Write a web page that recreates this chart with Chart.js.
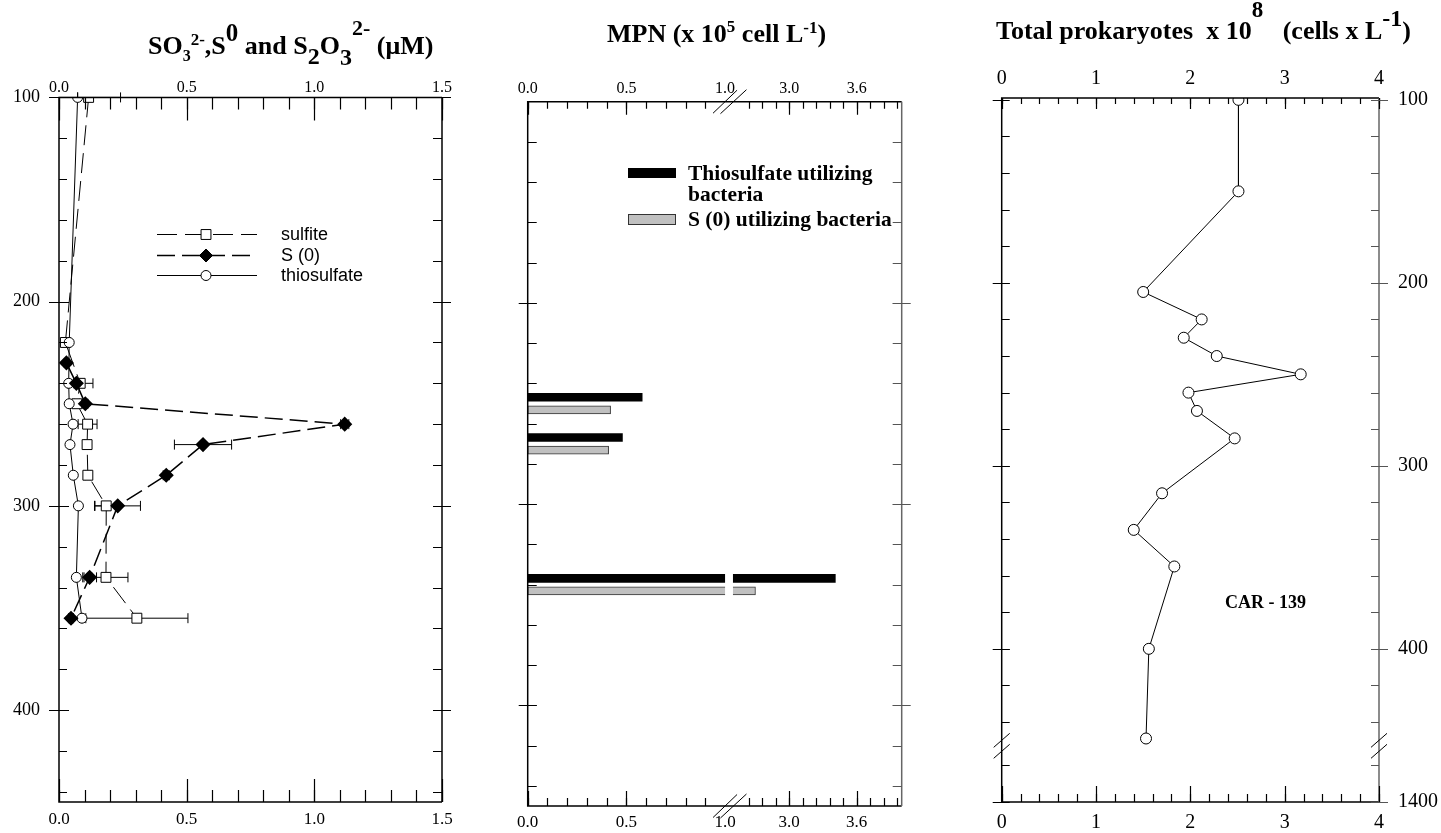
<!DOCTYPE html>
<html>
<head>
<meta charset="utf-8">
<script src="https://cdn.jsdelivr.net/npm/chart.js@4.4.1/dist/chart.umd.min.js"></script>
<style>
  html, body { margin: 0; padding: 0; background: #fff; }
  #wrap { position: relative; width: 1441px; height: 833px; overflow: hidden; }
  canvas { position: absolute; left: 0; top: 0; }
  .title { position: absolute; font-family: "Liberation Serif", "Times New Roman", serif; font-weight: bold;
           font-size: 26px; line-height: 30px; height: 30px; white-space: nowrap; color: #000; }
  .title span { position: relative; line-height: 0; }
</style>
</head>
<body>
<div id="wrap">
  <canvas id="sulfur" width="1441" height="833"></canvas>
  <canvas id="mpn" width="1441" height="833"></canvas>
  <canvas id="prok" width="1441" height="833"></canvas>
  <div class="title" style="left:148px; top:31px">SO<span style="font-size:16px; top:7px">3</span><span style="font-size:17px; top:-9px">2-</span>,S<span style="font-size:25px; top:-13px">0</span> and S<span style="font-size:24px; top:10px">2</span>O<span style="font-size:24px; top:11px">3</span><span style="font-size:22px; top:-19px">2-</span> (μM)</div>
  <div class="title" style="left:607px; top:19px">MPN (x 10<span style="font-size:17px; top:-10px">5</span> cell L<span style="font-size:17px; top:-9px">-1</span>)</div>
  <div class="title" style="left:996px; top:16px">Total prokaryotes&nbsp; x 10<span style="font-size:23px; top:-22px">8</span>&nbsp;&nbsp; (cells x L<span style="font-size:24px; top:-13px">-1</span>)</div>
</div>
<script>
// ---------- panel 1: sulfite, S(0), thiosulfate (uM) vs depth ----------
var sulfiteDepth = [100, 220, 240, 250, 260, 270, 285, 300, 335, 355];
var sulfite      = [0.116, 0.025, 0.083, 0.07, 0.112, 0.11, 0.113, 0.185, 0.184, 0.305];
var sulfiteErr   = [0.125, 0.005, 0.05, 0.01, 0.037, 0.01, 0.01, 0.046, 0.086, 0.2];

var s0Depth = [230, 240, 250, 260, 270, 285, 300, 335, 355];
var s0      = [0.029, 0.068, 0.103, 1.119, 0.564, 0.42, 0.23, 0.12, 0.047];
var s0Err   = [0.008, 0.01, 0.01, 0.016, 0.112, 0.012, 0.089, 0.027, 0.01];

var thioDepth = [100, 220, 240, 250, 260, 270, 285, 300, 335, 355];
var thio      = [0.073, 0.04, 0.038, 0.04, 0.055, 0.043, 0.056, 0.076, 0.068, 0.09];

var sulfurXTicks = [0, 0.5, 1.0, 1.5];
var sulfurYTicks = [100, 200, 300, 400];

// ---------- panel 2: MPN (x 10^5 cell/L), broken x axis ----------
var mpnDepth   = [250, 270, 340];
var thioBact   = [0.58, 0.48, 3.41];
var s0Bact     = [0.42, 0.41, 2.70];
var mpnXTicks  = [0, 0.5, 1.0, 3.0, 3.6];
var mpnXLabels = ['0.0', '0.5', '1.0', '3.0', '3.6'];

// ---------- panel 3: total prokaryotes x 10^8 cells/L, broken depth axis ----------
var prokDepth   = [100, 150, 205, 220, 230, 240, 250, 260, 270, 285, 315, 335, 355, 400, 449];
var prokaryotes = [2.51, 2.51, 1.50, 2.12, 1.93, 2.28, 3.17, 1.98, 2.07, 2.47, 1.70, 1.40, 1.83, 1.56, 1.53];
var prokXTicks  = [0, 1, 2, 3, 4];
var prokYTicks  = [100, 200, 300, 400, 1400];

var serif = '"Liberation Serif", "Times New Roman", serif';

// broken axes: values past the break are shifted onto a compressed piece
function mpnAxis(v) { return v <= 1 ? v : 1.04 + (v - 2.5) * 0.57; }
function prokAxis(d) { return d <= 455 ? d : d - 916.3; }

function range(a, b, step) {
    var out = [];
    for (var v = a; v <= b + 1e-9; v += step) out.push(Math.round(v * 1000) / 1000);
    return out;
}

function marks(ctx, chart, side, scaleId, values, inLen, outLen) {
    var a = chart.chartArea;
    var s = chart.scales[scaleId];
    ctx.beginPath();
    values.forEach(function (v) {
        var p = Math.round(s.getPixelForValue(v)) + 0.5;
        if (side === 'top')    { ctx.moveTo(p, a.top - outLen);    ctx.lineTo(p, a.top + inLen); }
        if (side === 'bottom') { ctx.moveTo(p, a.bottom + outLen); ctx.lineTo(p, a.bottom - inLen); }
        if (side === 'left')   { ctx.moveTo(a.left - outLen, p);   ctx.lineTo(a.left + inLen, p); }
        if (side === 'right')  { ctx.moveTo(a.right + outLen, p);  ctx.lineTo(a.right - inLen, p); }
    });
    ctx.stroke();
}

function frame(ctx, chart, rightColor) {
    var a = chart.chartArea;
    ctx.lineWidth = 1.5;
    ctx.strokeStyle = '#000';
    ctx.beginPath();
    ctx.moveTo(a.right, a.top); ctx.lineTo(a.left, a.top);
    ctx.lineTo(a.left, a.bottom); ctx.lineTo(a.right, a.bottom);
    ctx.stroke();
    ctx.strokeStyle = rightColor || '#000';
    ctx.beginPath();
    ctx.moveTo(a.right, a.top); ctx.lineTo(a.right, a.bottom);
    ctx.stroke();
    ctx.lineWidth = 1.2;
    ctx.strokeStyle = '#000';
}

function slash(ctx, x, y, dx, dy) {
    ctx.beginPath();
    ctx.moveTo(x - dx, y + dy);
    ctx.lineTo(x + dx, y - dy);
    ctx.stroke();
}

function fixedTicks(list) {
    return function (scale) {
        scale.ticks = list.map(function (v) { return { value: v }; });
    };
}

function hAxis(pos, min, max, ticks, labels, size, pad, h) {
    return {
        type: 'linear', position: pos, min: min, max: max,
        grid: { display: false, drawTicks: false }, border: { display: false },
        afterBuildTicks: fixedTicks(ticks),
        afterFit: function (s) { s.height = h; },
        ticks: {
            autoSkip: false, maxRotation: 0, padding: pad, color: '#000',
            font: { family: serif, size: size },
            callback: function (v, i) { return labels[i]; }
        }
    };
}

// ================= panel 1 =================
var errorBars = {
    id: 'errorBars',
    beforeDatasetsDraw: function (chart) {
        var ctx = chart.ctx, a = chart.chartArea;
        var xs = chart.scales.x, ys = chart.scales.y;
        ctx.save();
        ctx.beginPath();
        ctx.rect(a.left, a.top - 8, a.right - a.left, a.bottom - a.top + 16);
        ctx.clip();
        ctx.strokeStyle = '#000';
        ctx.lineWidth = 1;
        chart.data.datasets.forEach(function (ds) {
            ds.data.forEach(function (pt, i) {
                var e = ds.err[i];
                var y = ys.getPixelForValue(pt.y);
                var x1 = Math.max(xs.getPixelForValue(pt.x - e), a.left);
                var x2 = xs.getPixelForValue(pt.x + e);
                ctx.beginPath();
                ctx.moveTo(x1, y); ctx.lineTo(x2, y);
                if (pt.x - e > 0) { ctx.moveTo(x1, y - 5); ctx.lineTo(x1, y + 5); }
                ctx.moveTo(x2, y - 5); ctx.lineTo(x2, y + 5);
                ctx.stroke();
            });
        });
        ctx.restore();
    }
};

var sulfurDecor = {
    id: 'sulfurDecor',
    afterDraw: function (chart) {
        var ctx = chart.ctx;
        ctx.save();
        frame(ctx, chart);
        var minorX = range(0, 1.5, 0.1), minorY = range(120, 440, 20);
        marks(ctx, chart, 'top', 'x', minorX, 12, 0);
        marks(ctx, chart, 'top', 'x', sulfurXTicks, 23, 0);
        marks(ctx, chart, 'bottom', 'x', minorX, 12, 0);
        marks(ctx, chart, 'bottom', 'x', sulfurXTicks, 23, 0);
        marks(ctx, chart, 'left', 'y', minorY, 8, 0);
        marks(ctx, chart, 'left', 'y', sulfurYTicks, 10, 10);
        marks(ctx, chart, 'right', 'y', minorY, 9, 0);
        marks(ctx, chart, 'right', 'y', sulfurYTicks, 9, 9);

        // legend
        var rows = [
            { y: 234, label: 'sulfite', ds: chart.data.datasets[2] },
            { y: 255, label: 'S (0)', ds: chart.data.datasets[0] },
            { y: 275, label: 'thiosulfate', ds: chart.data.datasets[1] }
        ];
        ctx.font = '18px "Liberation Sans", Arial, sans-serif';
        ctx.textBaseline = 'middle';
        ctx.fillStyle = '#000';
        rows.forEach(function (r) {
            ctx.save();
            ctx.lineWidth = r.ds.borderWidth;
            ctx.setLineDash(r.ds.borderDash || []);
            ctx.beginPath();
            ctx.moveTo(157, r.y + 0.5); ctx.lineTo(257, r.y + 0.5);
            ctx.stroke();
            ctx.restore();
            ctx.save();
            ctx.lineWidth = 1;
            ctx.fillStyle = r.ds.pointBackgroundColor;
            var x = 206, y = r.y + 0.5, rad = r.ds.pointRadius;
            ctx.beginPath();
            if (r.ds.pointStyle === 'circle') ctx.arc(x, y, rad, 0, Math.PI * 2);
            if (r.ds.pointStyle === 'rect') { var h = rad * Math.SQRT1_2; ctx.rect(x - h, y - h, 2 * h, 2 * h); }
            if (r.ds.pointStyle === 'rectRot') { ctx.moveTo(x - rad, y); ctx.lineTo(x, y - rad); ctx.lineTo(x + rad, y); ctx.lineTo(x, y + rad); ctx.closePath(); }
            ctx.fill(); ctx.stroke();
            ctx.restore();
            ctx.fillText(r.label, 281, r.y + 1);
        });
        ctx.restore();
    }
};

function pts(depths, vals) {
    return depths.map(function (d, i) { return { x: vals[i], y: d }; });
}

new Chart(document.getElementById('sulfur'), {
    type: 'scatter',
    data: {
        datasets: [{
            label: 'S (0)', data: pts(s0Depth, s0), err: s0Err, showLine: true,
            borderColor: '#000', borderWidth: 1.5, borderDash: [18, 7],
            pointStyle: 'rectRot', pointRadius: 6.5, pointBackgroundColor: '#000', pointBorderColor: '#000'
        }, {
            label: 'thiosulfate', data: pts(thioDepth, thio), err: thioDepth.map(function () { return 0; }), showLine: true,
            borderColor: '#000', borderWidth: 1,
            pointStyle: 'circle', pointRadius: 5, pointBackgroundColor: '#fff', pointBorderColor: '#000', pointBorderWidth: 1
        }, {
            label: 'sulfite', data: pts(sulfiteDepth, sulfite), err: sulfiteErr, showLine: true,
            borderColor: '#000', borderWidth: 1, borderDash: [20, 8],
            pointStyle: 'rect', pointRadius: 7, pointBackgroundColor: '#fff', pointBorderColor: '#000', pointBorderWidth: 1
        }]
    },
    options: {
        responsive: false, animation: false,
        layout: { padding: { left: 4, right: 999, top: 67.4, bottom: 1 } },
        plugins: { legend: { display: false }, tooltip: { enabled: false } },
        scales: {
            x: hAxis('bottom', 0, 1.5, sulfurXTicks, ['0.0', '0.5', '1.0', '1.5'], 17, 7.5, 30),
            x2: hAxis('top', 0, 1.5, sulfurXTicks, ['0.0', '0.5', '1.0', '1.5'], 16, 0, 30),
            y: {
                type: 'linear', position: 'left', min: 100, max: 445, reverse: true,
                grid: { display: false, drawTicks: false }, border: { display: false },
                afterBuildTicks: fixedTicks(sulfurYTicks),
                afterFit: function (s) { s.width = 55; },
                ticks: { padding: 19, color: '#000', font: { family: serif, size: 18 } }
            }
        }
    },
    plugins: [errorBars, sulfurDecor]
});

// ================= panel 2 =================
var mpnDecor = {
    id: 'mpnDecor',
    afterDatasetsDraw: function (chart) {
        var ctx = chart.ctx, a = chart.chartArea, xs = chart.scales.x;
        var g1 = xs.getPixelForValue(1.0), g2 = xs.getPixelForValue(mpnAxis(2.5));
        ctx.save();
        ctx.fillStyle = '#fff';
        ctx.fillRect(g1, a.top + 2, g2 - g1, a.bottom - a.top - 4);
        ctx.restore();
    },
    afterDraw: function (chart) {
        var ctx = chart.ctx, a = chart.chartArea, xs = chart.scales.x;
        ctx.save();
        frame(ctx, chart, '#666');
        var minorX = range(0, 0.9, 0.1).concat(range(2.64, 3.96, 0.12).map(mpnAxis));
        var majorX = [0, 0.5, mpnAxis(3.0), mpnAxis(3.6)];
        var minorY = range(120, 440, 20), majorY = [200, 300, 400];
        marks(ctx, chart, 'top', 'x', minorX, 7, 0);
        marks(ctx, chart, 'top', 'x', majorX, 13, 0);
        marks(ctx, chart, 'bottom', 'x', minorX, 8, 0);
        marks(ctx, chart, 'bottom', 'x', majorX, 15, 0);
        marks(ctx, chart, 'left', 'y', minorY, 9, 0);
        marks(ctx, chart, 'left', 'y', majorY, 9, 9);
        ctx.strokeStyle = '#555';
        marks(ctx, chart, 'right', 'y', minorY, 9, 0);
        marks(ctx, chart, 'right', 'y', majorY, 9, 9);
        ctx.strokeStyle = '#000';
        ctx.lineWidth = 1;
        var b1 = xs.getPixelForValue(1.0), b2 = xs.getPixelForValue(mpnAxis(2.5));
        [a.top, a.bottom].forEach(function (y) {
            slash(ctx, b1, y, 12, 11.5);
            slash(ctx, b2 + 0.5, y, 13, 12);
        });

        // legend
        ctx.fillStyle = '#000';
        ctx.fillRect(628, 168, 48, 10);
        ctx.fillStyle = '#c0c0c0';
        ctx.fillRect(628.5, 214.5, 47, 10);
        ctx.strokeStyle = '#333';
        ctx.strokeRect(628.5, 214.5, 47, 10);
        ctx.fillStyle = '#000';
        ctx.font = 'bold 21.5px ' + serif;
        ctx.textBaseline = 'middle';
        ctx.fillText('Thiosulfate utilizing', 688, 174);
        ctx.fillText('bacteria', 688, 195);
        ctx.fillText('S (0) utilizing bacteria', 688, 220);
        ctx.restore();
    }
};

function bars(vals) {
    return mpnDepth.map(function (d, i) { return { x: mpnAxis(vals[i]), y: d }; });
}

new Chart(document.getElementById('mpn'), {
    type: 'bar',
    data: {
        datasets: [{
            label: 'Thiosulfate utilizing bacteria', data: bars(thioBact),
            backgroundColor: '#000', borderWidth: 0
        }, {
            label: 'S (0) utilizing bacteria', data: bars(s0Bact),
            backgroundColor: '#c0c0c0', borderColor: '#333', borderWidth: 1, borderSkipped: false
        }]
    },
    options: {
        indexAxis: 'y', responsive: false, animation: false,
        barThickness: 12.6, maxBarThickness: 8,
        layout: { padding: { left: 527.7, right: 539.3, top: 71.7, bottom: 3 } },
        plugins: { legend: { display: false }, tooltip: { enabled: false } },
        scales: {
            x: hAxis('bottom', 0, mpnAxis(4.0), mpnXTicks.map(mpnAxis), mpnXLabels, 17, 6.8, 24),
            x2: hAxis('top', 0, mpnAxis(4.0), mpnXTicks.map(mpnAxis), mpnXLabels, 16, 3, 30),
            y: { type: 'linear', display: false, offset: false, min: 100, max: 450, reverse: true }
        }
    },
    plugins: [mpnDecor]
});

// ================= panel 3 =================
var prokDecor = {
    id: 'prokDecor',
    afterDraw: function (chart) {
        var ctx = chart.ctx, a = chart.chartArea, ys = chart.scales.y;
        ctx.save();
        frame(ctx, chart, '#666');
        var minorX = range(0, 4, 0.2);
        var minorY = range(120, 440, 20).concat([prokAxis(1380)]);
        var majorY = prokYTicks.map(prokAxis);
        marks(ctx, chart, 'top', 'x', minorX, 6, 0);
        marks(ctx, chart, 'top', 'x', prokXTicks, 11, 0);
        marks(ctx, chart, 'bottom', 'x', minorX, 8, 0);
        marks(ctx, chart, 'bottom', 'x', prokXTicks, 16, 0);
        marks(ctx, chart, 'left', 'y', minorY, 8, 0);
        marks(ctx, chart, 'left', 'y', majorY, 8, 9);
        ctx.strokeStyle = '#555';
        marks(ctx, chart, 'right', 'y', minorY, 8, 0);
        marks(ctx, chart, 'right', 'y', majorY, 8, 9);
        ctx.strokeStyle = '#000';
        ctx.lineWidth = 1;
        var y1 = ys.getPixelForValue(450), y2 = ys.getPixelForValue(456);
        [a.left, a.right].forEach(function (x) {
            slash(ctx, x, y1, 8, 7);
            slash(ctx, x, y2, 8, 7);
        });
        ctx.fillStyle = '#000';
        ctx.font = 'bold 18px ' + serif;
        ctx.textBaseline = 'middle';
        ctx.fillText('CAR - 139', 1225, 603);
        ctx.restore();
    }
};

new Chart(document.getElementById('prok'), {
    type: 'scatter',
    data: {
        datasets: [{
            label: 'Total prokaryotes',
            data: prokDepth.map(function (d, i) { return { x: prokaryotes[i], y: prokAxis(d) }; }),
            showLine: true, borderColor: '#000', borderWidth: 1,
            pointStyle: 'circle', pointRadius: 5.5, pointBackgroundColor: '#fff',
            pointBorderColor: '#000', pointBorderWidth: 1
        }]
    },
    options: {
        responsive: false, animation: false,
        layout: { padding: { left: 1001.7, right: 2, top: 68, bottom: 3.7 } },
        plugins: { legend: { display: false }, tooltip: { enabled: false } },
        scales: {
            x: hAxis('bottom', 0, 4, prokXTicks, ['0', '1', '2', '3', '4'], 20, 8.7, 26),
            x2: hAxis('top', 0, 4, prokXTicks, ['0', '1', '2', '3', '4'], 20, 7.7, 30),
            y: { type: 'linear', display: false, min: 99, max: prokAxis(1400), reverse: true },
            y2: {
                type: 'linear', position: 'right', min: 99, max: prokAxis(1400), reverse: true,
                grid: { display: false, drawTicks: false }, border: { display: false },
                afterBuildTicks: fixedTicks(prokYTicks.map(prokAxis)),
                afterFit: function (s) { s.width = 60; },
                ticks: {
                    autoSkip: false, padding: 19, color: '#000', font: { family: serif, size: 20 },
                    callback: function (v, i) { return String(prokYTicks[i]); }
                }
            }
        }
    },
    plugins: [prokDecor]
});
</script>
</body>
</html>
